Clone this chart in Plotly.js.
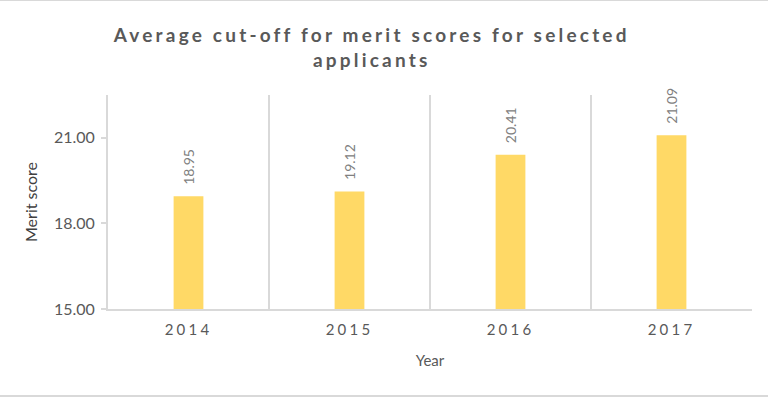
<!DOCTYPE html>
<html>
<head>
<meta charset="utf-8">
<script src="https://cdn.plot.ly/plotly-3.0.1.min.js"></script>
<style>
  html, body { margin: 0; padding: 0; background: #fff; }
  #chart { width: 768px; height: 397px; box-sizing: border-box; border-top: 1px solid #d9d9d9; border-bottom: 2px solid #d9d9d9; }
  .gtitle { letter-spacing: 3.2px; }
  .xtick text { letter-spacing: 3.2px; }
</style>
</head>
<body>
<div id="chart"></div>
<script>
const years = ["2014", "2015", "2016", "2017"];
const meritScores = [18.95, 19.12, 20.41, 21.09];
const yTickVals = [15, 18, 21];
const yTickText = ["15.00", "18.00", "21.00"];

const trace = {
  type: "bar",
  x: years,
  y: meritScores,
  width: 0.185,
  marker: { color: "#FFD966" },
  cliponaxis: false,
  hoverinfo: "none"
};

// value labels, positioned on the category axis by category index
const labels = years.map((yr, i) => ({
  x: i,
  y: meritScores[i],
  xref: "x",
  yref: "y",
  text: meritScores[i].toFixed(2),
  textangle: -90,
  showarrow: false,
  xanchor: "center",
  yanchor: "bottom",
  yshift: 9,
  font: { family: "Lato, sans-serif", size: 14, color: "#808080" }
}));

const layout = {
  width: 768,
  height: 394,
  margin: { l: 108, r: 16, t: 94, b: 86 },
  paper_bgcolor: "#ffffff",
  plot_bgcolor: "#ffffff",
  showlegend: false,
  annotations: labels,
  title: {
    text: "Average cut-off for merit scores for selected<br>applicants",
    font: { family: "Lato, sans-serif", size: 19, color: "#595959", weight: "bold" },
    x: 0.484, xanchor: "center",
    y: 0.895, yanchor: "top"
  },
  xaxis: {
    type: "category",
    categoryarray: years,
    tickson: "boundaries",
    showgrid: true,
    gridcolor: "#d9d9d9",
    gridwidth: 2,
    showline: true,
    linecolor: "#d9d9d9",
    linewidth: 2,
    ticks: "",
    ticklabelstandoff: 6,
    tickfont: { family: "Lato, sans-serif", size: 15, color: "#595959" },
    title: { text: "Year", font: { family: "Lato, sans-serif", size: 15, color: "#595959" }, standoff: 18 },
    fixedrange: true
  },
  yaxis: {
    range: [15, 22.5],
    tickvals: yTickVals,
    ticktext: yTickText,
    showgrid: false,
    zeroline: false,
    showline: true,
    linecolor: "#d9d9d9",
    linewidth: 2,
    ticks: "outside",
    ticklen: 5,
    tickcolor: "#d9d9d9",
    tickwidth: 2,
    ticklabelstandoff: 3,
    tickfont: { family: "Lato, sans-serif", size: 16, color: "#595959" },
    title: { text: "Merit score", font: { family: "Lato, sans-serif", size: 16, color: "#404040" }, standoff: 12 },
    fixedrange: true
  }
};

Plotly.newPlot("chart", [trace], layout, { displayModeBar: false, staticPlot: true });
</script>
</body>
</html>
